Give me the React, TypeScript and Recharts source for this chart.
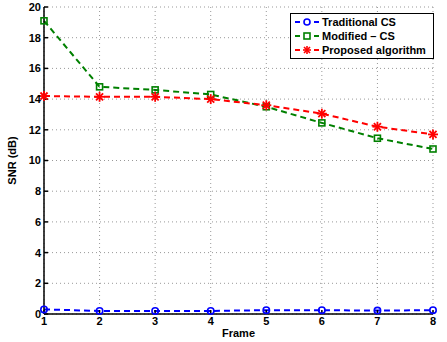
import React from 'react';
import { LineChart, Line, XAxis, YAxis, CartesianGrid } from 'recharts';

const frames = [1, 2, 3, 4, 5, 6, 7, 8];
const traditionalCS = [0.3, 0.2, 0.2, 0.2, 0.25, 0.25, 0.22, 0.25];
const modifiedCS = [19.1, 14.8, 14.6, 14.3, 13.5, 12.45, 11.45, 10.75];
const proposed = [14.2, 14.15, 14.15, 14.0, 13.6, 13.05, 12.2, 11.7];
const xTicks = [1, 2, 3, 4, 5, 6, 7, 8];
const yTicks = [0, 2, 4, 6, 8, 10, 12, 14, 16, 18, 20];

const seriesNames = ['Traditional CS', 'Modified \u2013 CS', 'Proposed algorithm'];
const BLUE = '#0000ff';
const GREEN = '#008000';
const RED = '#ff0000';

const data = frames.map((f, i) => ({
  frame: f,
  trad: traditionalCS[i],
  mod: modifiedCS[i],
  prop: proposed[i],
}));

const FONT = '"Liberation Sans", Arial, sans-serif';

const CircleDot = (props: any) => {
  const { cx, cy } = props;
  if (cx == null || cy == null) return null;
  return <circle cx={cx} cy={cy} r={3.2} fill="none" stroke={BLUE} strokeWidth={1.6} />;
};

const SquareDot = (props: any) => {
  const { cx, cy } = props;
  if (cx == null || cy == null) return null;
  return <rect x={cx - 3} y={cy - 3} width={6} height={6} fill="none" stroke={GREEN} strokeWidth={1.6} />;
};

const StarDot = (props: any) => {
  const { cx, cy } = props;
  if (cx == null || cy == null) return null;
  const r = 5;
  const d = r * 0.707;
  return (
    <g stroke={RED} strokeWidth={1.8}>
      <line x1={cx - r} y1={cy} x2={cx + r} y2={cy} />
      <line x1={cx} y1={cy - r} x2={cx} y2={cy + r} />
      <line x1={cx - d} y1={cy - d} x2={cx + d} y2={cy + d} />
      <line x1={cx - d} y1={cy + d} x2={cx + d} y2={cy - d} />
    </g>
  );
};

const markers = [
  (c: string) => <circle cx={12} cy={6} r={3} fill="none" stroke={c} strokeWidth={1.6} />,
  (c: string) => <rect x={9} y={3} width={6} height={6} fill="none" stroke={c} strokeWidth={1.6} />,
  (c: string) => (
    <g stroke={c} strokeWidth={1.6}>
      <line x1={8} y1={6} x2={16} y2={6} />
      <line x1={12} y1={2} x2={12} y2={10} />
      <line x1={9} y1={3} x2={15} y2={9} />
      <line x1={9} y1={9} x2={15} y2={3} />
    </g>
  ),
];
const colors = [BLUE, GREEN, RED];

// legend drawn outside the chart so it doesn't eat plot height
const ChartLegend = () => (
  <div
    style={{
      position: 'absolute',
      left: 290,
      top: 13,
      width: 144,
      border: '1px solid #000',
      background: '#fff',
      padding: '1px 0 1px 4px',
      boxSizing: 'border-box',
      fontFamily: FONT,
      fontWeight: 'bold',
      fontSize: 11,
    }}
  >
    {seriesNames.map((name, i) => (
      <div key={name} style={{ display: 'flex', alignItems: 'center', height: 14 }}>
        <svg width={24} height={12} style={{ marginRight: 3 }}>
          <line x1={0} y1={6} x2={5} y2={6} stroke={colors[i]} strokeWidth={2} />
          <line x1={19} y1={6} x2={24} y2={6} stroke={colors[i]} strokeWidth={2} />
          {markers[i](colors[i])}
        </svg>
        <span>{name}</span>
      </div>
    ))}
  </div>
);

const YLabel = (props: any) => {
  const vb = props.viewBox || {};
  const x = 12;
  const y = (vb.y || 0) + (vb.height || 0) / 2;
  return (
    <text
      x={x}
      y={y}
      transform={`rotate(-90 ${x} ${y})`}
      textAnchor="middle"
      dominantBaseline="central"
      fontFamily={FONT}
      fontWeight="bold"
      fontSize={11}
      fill="#000"
    >
      SNR (dB)
    </text>
  );
};

const tickStyle = { fill: '#000', fontSize: 11, fontWeight: 'bold', fontFamily: FONT };

export default function App() {
  return (
    <div style={{ position: 'absolute', left: 0, top: 0, width: 447, height: 342, background: '#fff' }}>
      <LineChart width={447} height={342} data={data} margin={{ top: 7, right: 14, left: 0, bottom: 0 }}>
        <CartesianGrid stroke="#999" strokeDasharray="1 3" />
        <XAxis
          dataKey="frame"
          type="number"
          domain={[1, 8]}
          ticks={xTicks}
          height={28}
          stroke="#000"
          strokeWidth={1.5}
          tickSize={-4}
          tickMargin={7}
          tick={tickStyle}
          label={{ value: 'Frame', position: 'insideBottom', offset: 5, fill: '#000', fontSize: 11, fontWeight: 'bold', fontFamily: FONT }}
        />
        <XAxis
          xAxisId="top"
          orientation="top"
          dataKey="frame"
          type="number"
          domain={[1, 8]}
          ticks={xTicks}
          height={0}
          stroke="#000"
          strokeWidth={1.5}
          tickSize={-4}
          tick={false}
        />
        <YAxis
          type="number"
          domain={[0, 20]}
          ticks={yTicks}
          width={44}
          stroke="#000"
          strokeWidth={1.5}
          tickSize={-4}
          tickMargin={7}
          tick={tickStyle}
          label={<YLabel />}
        />
        <YAxis
          yAxisId="right"
          orientation="right"
          type="number"
          domain={[0, 20]}
          ticks={yTicks}
          width={0}
          stroke="#000"
          strokeWidth={1.5}
          tickSize={-4}
          tick={false}
        />
        <Line
          dataKey="trad"
          name={seriesNames[0]}
          stroke={BLUE}
          strokeWidth={2}
          strokeDasharray="6 4"
          dot={<CircleDot />}
          isAnimationActive={false}
        />
        <Line
          dataKey="mod"
          name={seriesNames[1]}
          stroke={GREEN}
          strokeWidth={2}
          strokeDasharray="6 4"
          dot={<SquareDot />}
          isAnimationActive={false}
        />
        <Line
          dataKey="prop"
          name={seriesNames[2]}
          stroke={RED}
          strokeWidth={2}
          strokeDasharray="6 4"
          dot={<StarDot />}
          isAnimationActive={false}
        />
      </LineChart>
      <ChartLegend />
    </div>
  );
}
